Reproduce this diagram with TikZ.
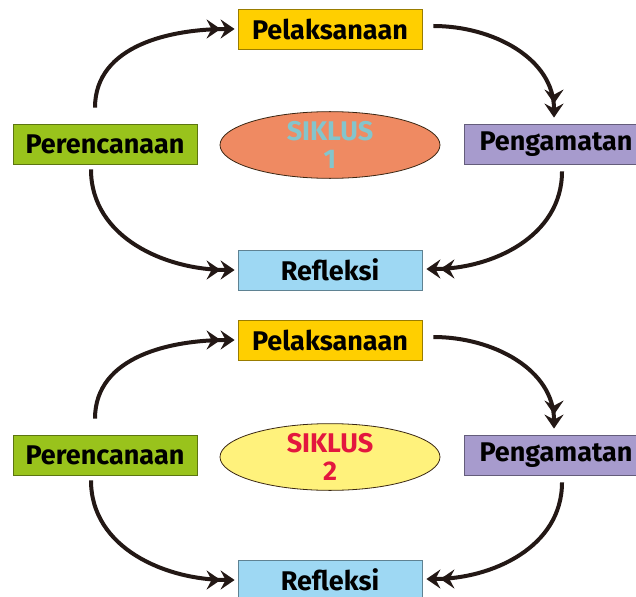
\documentclass[tikz,border=0pt]{standalone}
\usepackage{fontspec}
\setmainfont{Fira Sans}
\usepackage{tikz}
\usepackage{xcolor}
\usetikzlibrary{arrows.meta,shapes.geometric}

\definecolor{plgold}{RGB}{255,207,0}
\definecolor{prgreen}{RGB}{153,195,28}
\definecolor{pglav}{RGB}{167,155,205}
\definecolor{rfblue}{RGB}{158,216,243}
\definecolor{skorange}{RGB}{239,138,98}
\definecolor{skteal}{RGB}{132,197,204}
\definecolor{skyellow}{RGB}{255,242,124}
\definecolor{skred}{RGB}{227,23,62}
\definecolor{arrowink}{RGB}{35,24,21}

\tikzset{
  stagebox/.style={draw=#1!60!black, fill=#1, line width=0.8pt, minimum width=184pt, minimum height=40pt, inner sep=0pt, font=\fontsize{27}{27}\selectfont\bfseries, text=black},
  siklus/.style={ellipse, draw=black!70!brown, line width=0.8pt, minimum width=220pt, minimum height=66pt, inner sep=0pt, align=center, font=\fontsize{27}{28}\selectfont\bfseries},
  cycarrow/.style={draw=arrowink, line width=4pt, -{Stealth[length=14pt,width=19pt,inset=5pt]Stealth[length=14pt,width=19pt,inset=5pt]}}
}

\begin{document}
\begin{tikzpicture}[x=1pt,y=1pt,yscale=-1,xscale=1]
\useasboundingbox (0,0) rectangle (636,596);

%Siklus 1
% Text Node
\node [stagebox=plgold] (pl1) at (330,29) {Pelaksanaan};
% Text Node
\node [stagebox=prgreen] (pr1) at (105,144) {Perencanaan};
% Text Node
\node [stagebox=pglav] (pg1) at (556,144) {Pengamatan};
% Text Node
\node [stagebox=rfblue] (rf1) at (330,270) {Refleksi};
%Shape: Ellipse
\node [siklus, fill=skorange, text=skteal] (sk1) at (330,145) {SIKLUS\\1};
%Curve Lines
\draw [cycarrow] ([xshift=-10pt,yshift=-16pt]pr1.north) to[out=-90,in=180] ([xshift=-3pt]pl1.west);
\draw [cycarrow] ([xshift=11pt,yshift=-3pt]pl1.east) to[out=0,in=-90] ([xshift=-2pt,yshift=-6pt]pg1.north);
\draw [cycarrow] ([xshift=-14pt,yshift=5pt]pr1.south) to[out=90,in=180] ([xshift=-3pt]rf1.west);
\draw [cycarrow] ([xshift=6pt,yshift=7pt]pg1.south) to[out=90,in=0] ([xshift=4pt,yshift=-1pt]rf1.east);

%Siklus 2
% Text Node
\node [stagebox=plgold] (pl2) at (330,340) {Pelaksanaan};
% Text Node
\node [stagebox=prgreen] (pr2) at (105,455) {Perencanaan};
% Text Node
\node [stagebox=pglav] (pg2) at (556,455) {Pengamatan};
% Text Node
\node [stagebox=rfblue] (rf2) at (330,580) {Refleksi};
%Shape: Ellipse
\node [siklus, fill=skyellow, text=skred] (sk2) at (330,457) {SIKLUS\\2};
%Curve Lines
\draw [cycarrow] ([xshift=-10pt,yshift=-16pt]pr2.north) to[out=-90,in=180] ([xshift=-3pt]pl2.west);
\draw [cycarrow] ([xshift=11pt,yshift=-3pt]pl2.east) to[out=0,in=-90] ([xshift=-2pt,yshift=-6pt]pg2.north);
\draw [cycarrow] ([xshift=-14pt,yshift=5pt]pr2.south) to[out=90,in=180] ([xshift=-3pt]rf2.west);
\draw [cycarrow] ([xshift=6pt,yshift=7pt]pg2.south) to[out=90,in=0] ([xshift=4pt,yshift=-1pt]rf2.east);

\end{tikzpicture}
\end{document}
